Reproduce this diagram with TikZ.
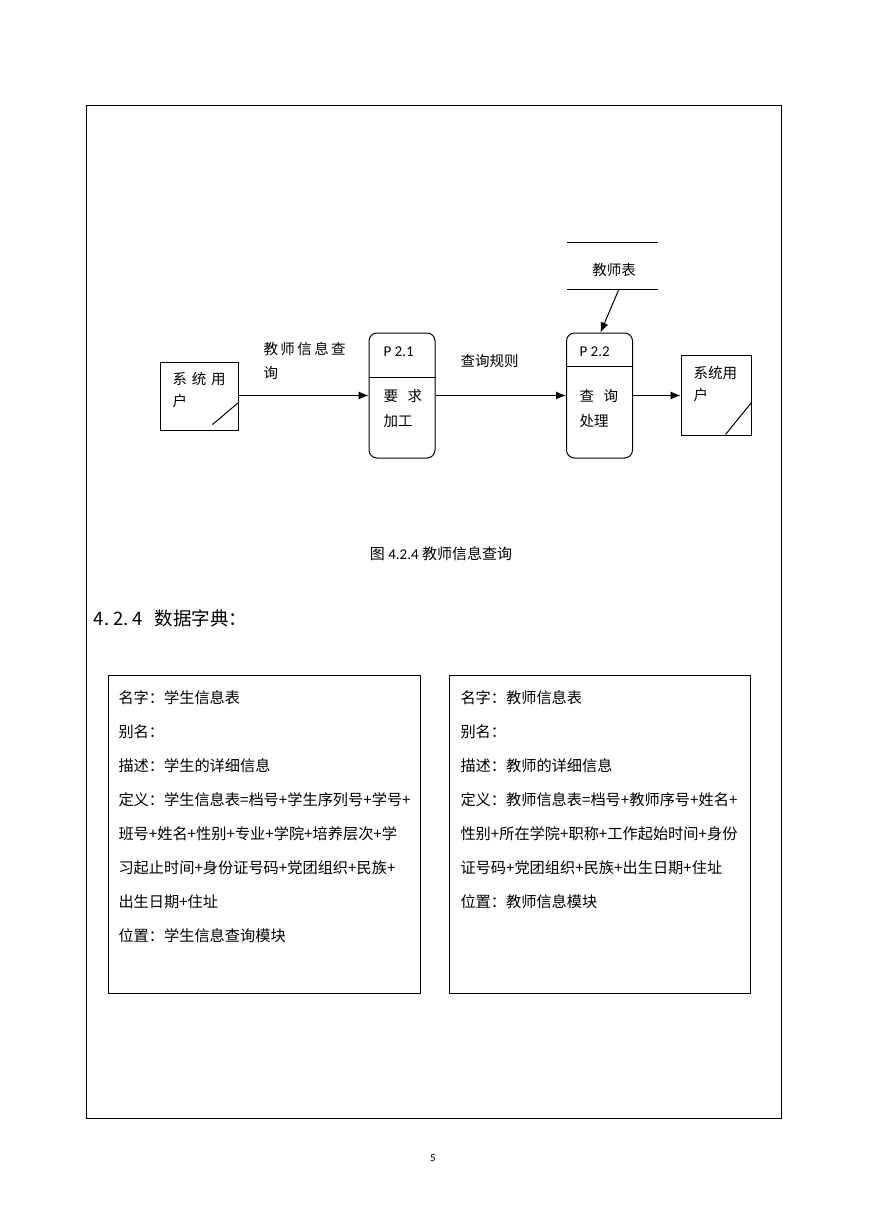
\documentclass[tikz,border=0pt]{standalone}
\usepackage{fontspec}
\setmainfont{Noto Sans CJK SC}
\newfontfamily\lat{Carlito}
\usetikzlibrary{arrows.meta}

\begin{document}
\begin{tikzpicture}[x=1pt, y=-1pt, line width=1pt, >={Latex[length=10pt,width=8pt]},
  font=\fontsize{14.5}{20}\selectfont,
  ext/.style={draw, minimum width=78pt, minimum height=68pt, inner sep=0pt},
  proc/.style={draw, rounded corners=8pt, minimum width=66pt, minimum height=125pt, inner sep=0pt},
  txt/.style={anchor=north west, align=left, inner sep=0pt, font=\fontsize{14.5}{22}\selectfont},
  pid/.style={anchor=north west, inner sep=0pt, font=\lat\fontsize{15}{20}\selectfont},
  dict/.style={draw, anchor=north west, minimum height=318pt, inner sep=0pt},
  entry/.style={anchor=north west, align=left, inner sep=0pt, font=\fontsize{15.2}{34}\selectfont}]
\useasboundingbox (0,0) rectangle (869,1228);
\node[draw, anchor=north west, minimum width=695pt, minimum height=1013pt, inner sep=0pt] (page) at (86,105) {};

% data flow diagram
\node[ext] (src) at (199,396) {};
\node[txt] (srct) at (172,372) {系\,\,统\,\,用\\户};
\draw ([xshift=-26pt,yshift=6pt]src.south east) -- ([yshift=28pt]src.south east);

\node[proc] (p1) at (402,395.5) {};
\draw ([yshift=-45pt]p1.north west) -- ([yshift=-45pt]p1.north east);
\node[pid] (p1n) at (383,346) {P 2.1};
\node[txt, font=\fontsize{14.5}{25}\selectfont] (p1t) at (383,389) {要\,\,\,\,求\\加工};

\node[proc] (p2) at (599.5,395.5) {};
\draw ([yshift=-34pt]p2.north west) -- ([yshift=-34pt]p2.north east);
\node[pid] (p2n) at (579,346) {P 2.2};
\node[txt, font=\fontsize{14.5}{25}\selectfont] (p2t) at (579,389) {查\,\,\,\,询\\处理};

\node[ext, minimum width=70pt, minimum height=80pt] (dst) at (716,395) {};
\node[txt] (dstt) at (693,366) {系统用\\户};
\draw ([xshift=-26pt,yshift=1pt]dst.south east) -- ([yshift=33pt]dst.south east);

\coordinate (st1) at (567,242);
\coordinate (st2) at (658,242);
\coordinate (sb1) at (567,289);
\coordinate (sb2) at (658,289);
\draw (st1) -- (st2);
\draw (sb1) -- (sb2);
\node (store) at (614,270) {教师表};
\coordinate (sout) at (619,289);

\draw[->] (src.east |- p1) -- (p1.west);
\draw[->] (p1.east) -- (p2.west);
\draw[->] (p2.east) -- (dst.west |- p2);
\draw[->] (sout) -- ([xshift=1pt]p2.north);

\node[txt, font=\fontsize{14.5}{24}\selectfont] (f1) at (263,342) {教\,师\,信\,息\,查\\询};
\node[txt] (f2) at (460,354) {查询规则};

\node[font=\fontsize{15}{18}\selectfont] (cap) at (441,554) {图 {\lat 4.2.4} 教师信息查询};

% data dictionary
\node[anchor=west, font=\fontsize{18.5}{22}\selectfont] (head) at (90,618) {4.\ 2.\ 4\ \ \,数据字典：};

\node[dict, minimum width=312pt] (dl) at (108,675) {};
\node[dict, minimum width=301pt] (dr) at (449,675) {};

\node[entry] (dlt) at (118,690) {名字：学生信息表\\
别名：\\
描述：学生的详细信息\\
定义：学生信息表=档号+学生序列号+学号+\\
班号+姓名+性别+专业+学院+培养层次+学\\
习起止时间+身份证号码+党团组织+民族+\\
出生日期+住址\\
位置：学生信息查询模块};

\node[entry] (drt) at (460,690) {名字：教师信息表\\
别名：\\
描述：教师的详细信息\\
定义：教师信息表=档号+教师序号+姓名+\\
性别+所在学院+职称+工作起始时间+身份\\
证号码+党团组织+民族+出生日期+住址\\
位置：教师信息模块};

\node[font=\lat\fontsize{11}{13}\selectfont] (pnum) at (433,1158) {5};
\end{tikzpicture}
\end{document}
